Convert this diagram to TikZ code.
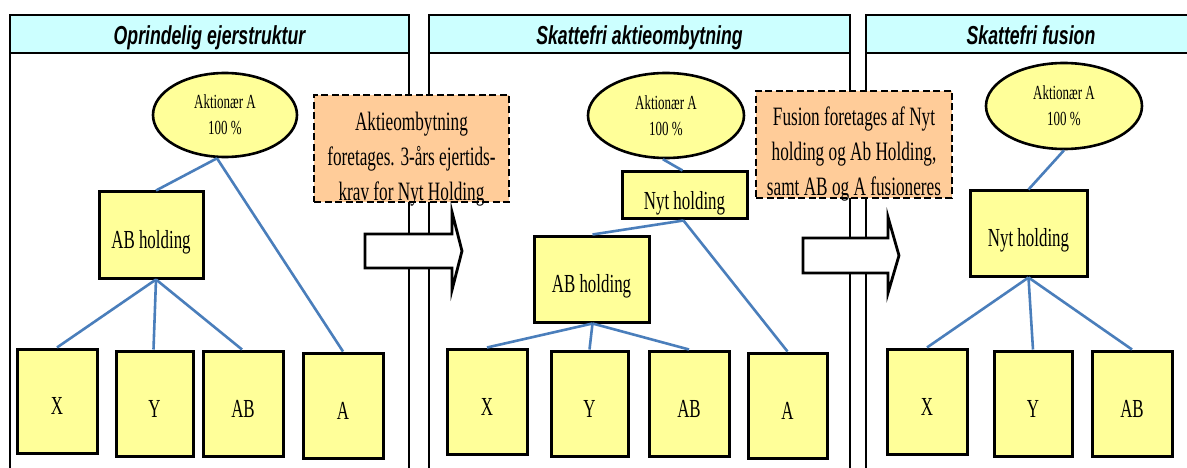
\documentclass[tikz,border=0pt]{standalone}
\usepackage{fontspec}
\usetikzlibrary{shapes.geometric}
\newfontfamily\tnr{Liberation Serif}[FakeStretch=0.65]
\newfontfamily\hdr{Liberation Sans}[FakeStretch=0.68]
\definecolor{yfill}{HTML}{FFFF99}
\definecolor{hfill}{HTML}{CCFFFF}
\definecolor{ofill}{HTML}{FFCC99}
\definecolor{lblue}{HTML}{4A7EBB}
\begin{document}
\begin{tikzpicture}[x=1pt,y=-1pt,
 panel/.style={draw=black,line width=2.3pt},
 hdrbar/.style={draw=black,line width=2.5pt,fill=hfill},
 hdrtext/.style={font=\hdr\bfseries\itshape\fontsize{26}{30}\selectfont,inner sep=0pt,text height=18.6pt,text depth=0pt},
 ybox/.style={draw=black,line width=3pt,fill=yfill,inner sep=0pt,text height=27pt,text depth=0pt,font=\tnr\fontsize{26}{30}\selectfont},
 owner/.style={ellipse,draw=black,line width=2.6pt,fill=yfill,inner sep=0pt,align=center,font=\tnr\fontsize{20}{26}\selectfont},
 notebox/.style={draw=black,line width=2.8pt,dash pattern=on 7pt off 3.5pt,fill=ofill,inner sep=0pt},
 notetext/.style={inner sep=0pt,align=center,font=\tnr\fontsize{26.5}{35}\selectfont},
 bigarrow/.style={draw=black,line width=2.8pt,fill=white,line join=miter},
 link/.style={draw=lblue,line width=2.6pt}
]
\useasboundingbox (0,0) rectangle (1187,468);
\clip (0,0) rectangle (1187,468);
\fill[white] (0,0) rectangle (1187,468);

% panels
\draw[panel] (10,15) rectangle (409,475);
\draw[hdrbar] (10,15) rectangle (409,53);
\node[hdrtext] (h1) at (209.5,35) {Oprindelig ejerstruktur};
\draw[panel] (429,15) rectangle (850,475);
\draw[hdrbar] (429,15) rectangle (850,53);
\node[hdrtext] (h2) at (639.5,35) {Skattefri aktieombytning};
\draw[panel] (866,15) rectangle (1196,475);
\draw[hdrbar] (866,15) rectangle (1196,53);
\node[hdrtext] (h3) at (1031,35) {Skattefri fusion};

% panel 1
\node[owner,minimum width=144pt,minimum height=84pt] (e1) at (225,115) {Aktionær A\\100 \%};
\node[ybox,minimum width=104pt,minimum height=86pt] (abh1) at (151,235) {AB holding};
\node[ybox,minimum width=80pt,minimum height=104pt] (x1) at (57,401) {X};
\node[ybox,minimum width=77pt,minimum height=105pt] (y1) at (154.5,403.5) {Y};
\node[ybox,minimum width=80pt,minimum height=105pt] (ab1) at (243,403.5) {AB};
\node[ybox,minimum width=80pt,minimum height=105pt] (a1) at (343,405.5) {A};
\draw[link] ([xshift=-8pt]e1.south) -- ([xshift=5pt]abh1.north);
\draw[link] ([xshift=-8pt]e1.south) -- (a1.north);
\draw[link] ([xshift=5pt]abh1.south) -- (x1.north);
\draw[link] ([xshift=5pt]abh1.south) -- ([xshift=-1pt]y1.north);
\draw[link] ([xshift=5pt]abh1.south) -- ([xshift=-1pt]ab1.north);

% panel 2
\node[owner,minimum width=156pt,minimum height=85pt] (e2) at (666,115.5) {Aktionær A\\100 \%};
\node[ybox,minimum width=125pt,minimum height=47pt] (nyt2) at (684.5,195.5) {Nyt holding};
\node[ybox,minimum width=115pt,minimum height=86pt] (abh2) at (591.5,279) {AB holding};
\node[ybox,minimum width=80pt,minimum height=105pt] (x2) at (487,401.5) {X};
\node[ybox,minimum width=77pt,minimum height=105pt] (y2) at (589.5,403.5) {Y};
\node[ybox,minimum width=80pt,minimum height=105pt] (ab2) at (689,403.5) {AB};
\node[ybox,minimum width=79pt,minimum height=105pt] (a2) at (787.5,405.5) {A};
\draw[link] ([xshift=-3pt]e2.south) -- ([xshift=-2pt]nyt2.north);
\draw[link] ([xshift=-1pt]nyt2.south) -- ([xshift=1pt]abh2.north);
\draw[link] ([xshift=-1pt]nyt2.south) -- (a2.north);
\draw[link] ([xshift=1pt]abh2.south) -- (x2.north);
\draw[link] ([xshift=1pt]abh2.south) -- (y2.north);
\draw[link] ([xshift=1pt]abh2.south) -- (ab2.north);

% panel 3
\node[owner,minimum width=156pt,minimum height=86pt] (e3) at (1064,106) {Aktionær A\\100 \%};
\node[ybox,minimum width=117pt,minimum height=85pt] (nyt3) at (1028.5,233.5) {Nyt holding};
\node[ybox,minimum width=80pt,minimum height=105pt] (x3) at (927,401.5) {X};
\node[ybox,minimum width=78pt,minimum height=105pt] (y3) at (1033,403.5) {Y};
\node[ybox,minimum width=80pt,minimum height=105pt] (ab3) at (1132,403.5) {AB};
\draw[link] (e3.south) -- (nyt3.north);
\draw[link] (nyt3.south) -- (x3.north);
\draw[link] (nyt3.south) -- (y3.north);
\draw[link] (nyt3.south) -- (ab3.north);

% notes
\node[notebox,minimum width=195pt,minimum height=107pt] (ob1) at (411.5,148.5) {};
\node[notetext] (ot1) at ([yshift=-11pt]ob1.center) {Aktieombytning\\foretages. 3-års ejertids-\\krav for Nyt Holding};
\node[notebox,minimum width=196pt,minimum height=107pt] (ob2) at (854,144.5) {};
\node[notetext] (ot2) at ([yshift=-10pt]ob2.center) {Fusion foretages af Nyt\\holding og Ab Holding,\\samt AB og A fusioneres};

% big arrows
\draw[bigarrow] (365,234) -- (452,234) -- (452,212) -- (462,251) -- (452,290) -- (452,268) -- (365,268) -- cycle;
\draw[bigarrow] (803,238) -- (888,238) -- (888,217) -- (899,255.5) -- (888,293) -- (888,273) -- (803,273) -- cycle;
\end{tikzpicture}
\end{document}
